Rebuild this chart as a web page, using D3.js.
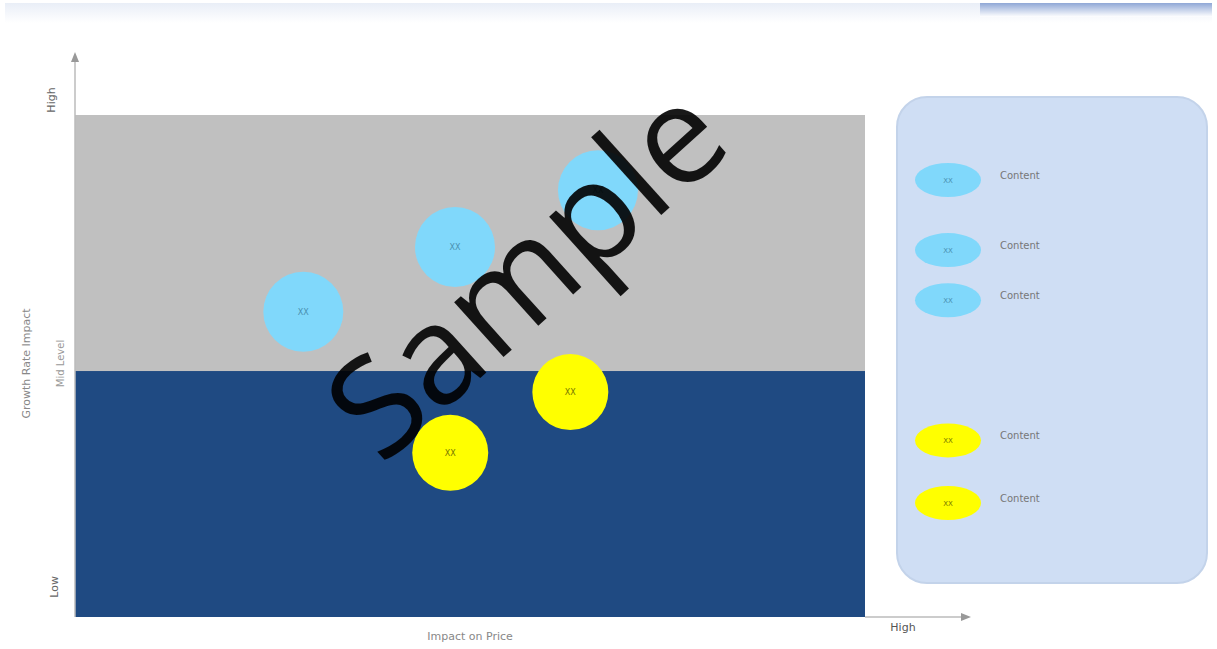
<!DOCTYPE html>
<html><head><meta charset="utf-8">
<script src="https://cdn.jsdelivr.net/npm/d3@7"></script>
<style>body{margin:0;background:#fff;}svg{display:block;font-family:"DejaVu Sans",sans-serif;}</style>
</head><body><svg id="c" width="1217" height="649"></svg>
<script>
// Data
const bandNames = ["Low", "High"];
const bandBounds = [0, 4.9, 10];
const bandColors = ["#1f4a82", "#c0c0c0"];
const bubbleNames = ["A1", "A2", "A3", "B1", "B2"];
const bubbleX = [2.89, 4.81, 6.62, 6.27, 4.75];
const bubbleY = [6.08, 7.37, 8.5, 4.48, 3.27];
const bubbleGroup = ["blue", "blue", "blue", "yellow", "yellow"];
const bubbleLabels = ["XX", "XX", "XX", "XX", "XX"];
const legendLabels = ["Content", "Content", "Content", "Content", "Content"];
const legendGroup = ["blue", "blue", "blue", "yellow", "yellow"];
const legendSlot = [0, 1.4, 2.4, 5.2, 6.45];
const axisLabelY = "Growth Rate Impact";
const axisMidY = "Mid Level";
const axisLabelX = "Impact on Price";
const tickLabels = ["Low", "High"];

const svg = d3.select("#c");
const x = d3.scaleLinear().domain([0, 10]).range([75, 865]);
const y = d3.scaleLinear().domain([0, 10]).range([617, 115]);
const colors = {blue: "#80d8fb", yellow: "#ffff00"};

// top strip
const defs = svg.append("defs");
const g1 = defs.append("linearGradient").attr("id","strip").attr("x1",0).attr("y1",0).attr("x2",0).attr("y2",1);
g1.append("stop").attr("offset","0").attr("stop-color","#e9eef7");
g1.append("stop").attr("offset","1").attr("stop-color","#ffffff");
svg.append("rect").attr("x",5).attr("y",3).attr("width",1207).attr("height",20).attr("fill","url(#strip)");
const g2 = defs.append("linearGradient").attr("id","strip2").attr("x1",0).attr("y1",0).attr("x2",0).attr("y2",1);
g2.append("stop").attr("offset","0").attr("stop-color","#8fa7d6");
g2.append("stop").attr("offset","1").attr("stop-color","#ffffff");
svg.append("rect").attr("x",980).attr("y",3).attr("width",232).attr("height",14).attr("fill","url(#strip2)");

// bands
svg.selectAll("rect.band").data(bandNames).enter().append("rect")
  .attr("class","band")
  .attr("x", x(0)).attr("width", x(10) - x(0))
  .attr("y", (d,i) => y(bandBounds[i+1]))
  .attr("height", (d,i) => y(bandBounds[i]) - y(bandBounds[i+1]))
  .attr("fill", (d,i) => bandColors[i]);

// axes
svg.append("line").attr("x1",x(0)).attr("x2",x(0)).attr("y1",y(0)).attr("y2",58).attr("stroke","#bbb").attr("stroke-width",1.5);
svg.append("path").attr("d",`M${x(0)-4},62 L${x(0)},52 L${x(0)+4},62 Z`).attr("fill","#999");
svg.append("line").attr("x1",x(10)).attr("x2",965).attr("y1",y(0)).attr("y2",y(0)).attr("stroke","#bbb").attr("stroke-width",1.5);
svg.append("path").attr("d",`M961,${y(0)-4} L971,${y(0)} L961,${y(0)+4} Z`).attr("fill","#999");

svg.append("text").attr("transform",`translate(55,${y(10)-15}) rotate(-90)`).attr("text-anchor","middle")
  .attr("font-size",11).attr("fill","#666").text(tickLabels[1]);
svg.append("text").attr("transform",`translate(58,${y(0.6)}) rotate(-90)`).attr("text-anchor","middle")
  .attr("font-size",11).attr("fill","#666").text(tickLabels[0]);
svg.append("text").attr("transform",`translate(30,${y(5.05)}) rotate(-90)`).attr("text-anchor","middle")
  .attr("font-size",11).attr("fill","#888").text(axisLabelY);
svg.append("text").attr("transform",`translate(64,${y(5.05)}) rotate(-90)`).attr("text-anchor","middle")
  .attr("font-size",10).attr("fill","#999").text(axisMidY);
svg.append("text").attr("x",x(5.0)).attr("y",640).attr("text-anchor","middle")
  .attr("font-size",11).attr("fill","#888").text(axisLabelX);
svg.append("text").attr("x",903).attr("y",631).attr("text-anchor","middle")
  .attr("font-size",11).attr("fill","#555").text(tickLabels[1]);

// bubbles
const bub = svg.selectAll("g.bub").data(bubbleNames).enter().append("g").attr("class","bub");
bub.append("circle").attr("cx",(d,i)=>x(bubbleX[i])).attr("cy",(d,i)=>y(bubbleY[i]))
  .attr("r",(d,i)=> bubbleGroup[i]==="blue" ? 40 : 38).attr("fill",(d,i)=>colors[bubbleGroup[i]]);
bub.append("text").attr("x",(d,i)=>x(bubbleX[i])).attr("y",(d,i)=>y(bubbleY[i])+3).attr("text-anchor","middle")
  .attr("font-size",8).attr("fill",(d,i)=> bubbleGroup[i]==="blue" ? "#4a90b0" : "#777700").text((d,i)=>bubbleLabels[i]);

// legend
svg.append("rect").attr("x",897).attr("y",97).attr("width",310).attr("height",486).attr("rx",30).attr("ry",30)
  .attr("fill","#cfdef4").attr("stroke","#c3d3ea").attr("stroke-width",2);
const ly = d3.scaleLinear().domain([0, 6.45]).range([180, 503]);
const leg = svg.selectAll("g.leg").data(legendLabels).enter().append("g").attr("class","leg");
leg.append("ellipse").attr("cx",948).attr("cy",(d,i)=>ly(legendSlot[i])).attr("rx",33).attr("ry",17)
  .attr("fill",(d,i)=>colors[legendGroup[i]]);
leg.append("text").attr("x",948).attr("y",(d,i)=>ly(legendSlot[i])+3).attr("text-anchor","middle")
  .attr("font-size",7).attr("fill",(d,i)=> legendGroup[i]==="blue" ? "#4a90b0" : "#777700").text("XX");
leg.append("text").attr("x",1000).attr("y",(d,i)=>ly(legendSlot[i])-1).attr("font-size",10)
  .attr("fill","#777").text(d=>d);

// watermark
svg.append("text").attr("transform","translate(534,280) rotate(-42)").attr("text-anchor","middle")
  .attr("dominant-baseline","middle").attr("font-size",138).attr("fill","#000").attr("fill-opacity",0.9)
  .attr("font-family","'Open Sans', sans-serif").text("Sample");
</script></body></html>
